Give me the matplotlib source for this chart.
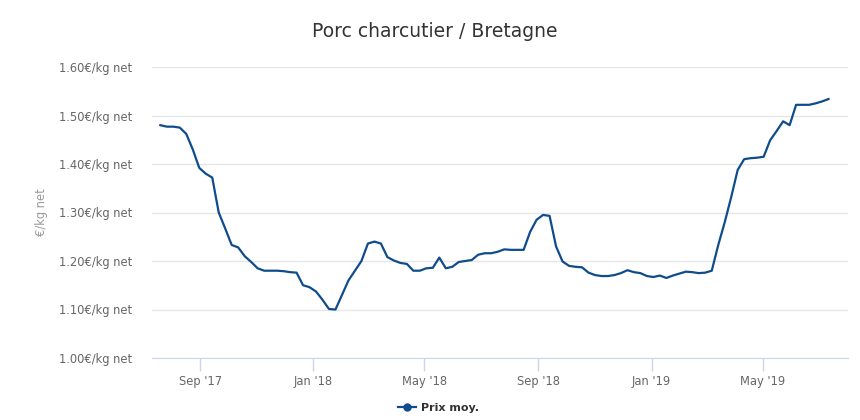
import numpy as np
import pandas as pd
import matplotlib
matplotlib.use("Agg")
import matplotlib.pyplot as plt
import matplotlib.dates as mdates
from matplotlib.lines import Line2D

# weekly price quotes
start = "2017-07-20"
prix_moy = [
    1.480, 1.477, 1.477, 1.475, 1.462, 1.430, 1.392, 1.380, 1.372, 1.300,
    1.267, 1.233, 1.228, 1.210, 1.198, 1.185, 1.180, 1.180, 1.180, 1.179,
    1.177, 1.176, 1.150, 1.146, 1.137, 1.120, 1.101, 1.100, 1.130, 1.160,
    1.180, 1.200, 1.236, 1.240, 1.236, 1.208, 1.201, 1.196, 1.194, 1.180,
    1.180, 1.185, 1.186, 1.207, 1.185, 1.188, 1.198, 1.200, 1.202, 1.213,
    1.216, 1.216, 1.219, 1.224, 1.223, 1.223, 1.223, 1.260, 1.285, 1.295,
    1.293, 1.230, 1.199, 1.190, 1.188, 1.187, 1.176, 1.171, 1.169, 1.169,
    1.171, 1.175, 1.181, 1.177, 1.175, 1.169, 1.167, 1.170, 1.165, 1.170,
    1.174, 1.178, 1.177, 1.175, 1.176, 1.180, 1.233, 1.280, 1.332, 1.388,
    1.410, 1.412, 1.413, 1.415, 1.449, 1.468, 1.488, 1.480, 1.522, 1.522,
    1.522, 1.525, 1.529, 1.534,
]
dates = pd.date_range(start, periods=len(prix_moy), freq="7D")

y_ticks = [1.00, 1.10, 1.20, 1.30, 1.40, 1.50, 1.60]
x_ticks = ["2017-09-01", "2018-01-01", "2018-05-01", "2018-09-01", "2019-01-01", "2019-05-01"]

LINE = "#0f4c8c"
GRID = "#e6e6e6"
AXIS = "#ccd6eb"
LABEL = "#666666"

plt.rcParams["font.family"] = ["DejaVu Sans"]

fig = plt.figure(figsize=(8.6, 4.2), dpi=100)
ax = fig.add_axes([152 / 860, 62 / 420, 696 / 860, 291 / 420])

ax.plot(dates, prix_moy, color=LINE, lw=1.6, solid_joinstyle="round")

ax.set_ylim(1.00, 1.60)
ax.set_yticks(y_ticks)
ax.set_yticklabels([f"{v:.2f}€/kg net" for v in y_ticks])
ax.set_xlim(pd.Timestamp("2017-07-11"), pd.Timestamp("2019-08-01"))
ax.set_xticks([pd.Timestamp(d) for d in x_ticks])
ax.xaxis.set_major_formatter(mdates.DateFormatter("%b '%y"))

ax.grid(axis="y", color=GRID, lw=1)
ax.set_axisbelow(True)
for s in ["top", "right", "left"]:
    ax.spines[s].set_visible(False)
ax.spines["bottom"].set_color(AXIS)
ax.tick_params(axis="y", length=0, pad=14, labelsize=8.3, labelcolor=LABEL)
ax.tick_params(axis="x", length=9, width=1, color=AXIS, pad=3, labelsize=8.3, labelcolor=LABEL)

ax.set_ylabel("€/kg net", color="#999999", fontsize=8.3, labelpad=8)

fig.text(0.506, 0.925, "Porc charcutier / Bretagne", ha="center", va="center",
         fontsize=13.5, color="#333333")

handle = Line2D([], [], color=LINE, lw=1.6, marker="o", markersize=5)
fig.legend([handle], ["Prix moy."], loc="center", bbox_to_anchor=(0.51, 0.028),
           frameon=False, prop={"weight": "bold", "size": 8}, handlelength=1.6,
           handletextpad=0.4, labelcolor="#333333")

fig.savefig("out.png", dpi=100)
